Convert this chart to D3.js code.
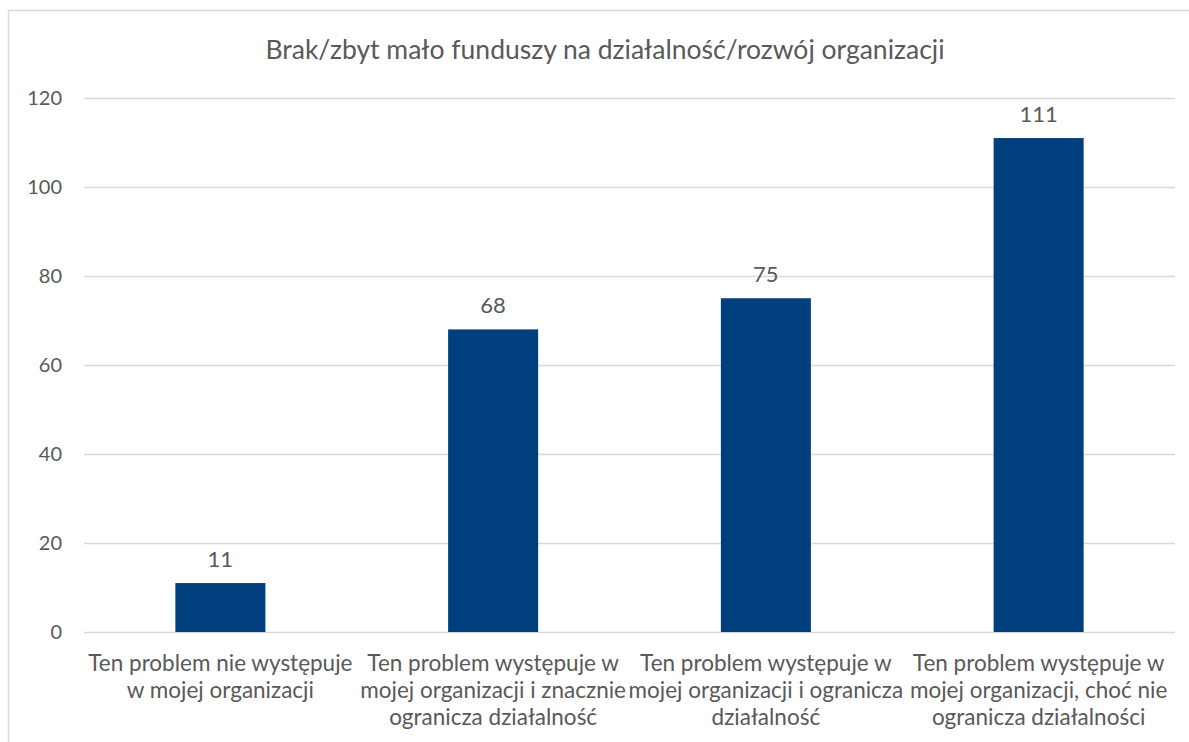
<!DOCTYPE html>
<html lang="pl">
<head>
<meta charset="UTF-8">
<title>Brak/zbyt mało funduszy</title>
<script src="https://d3js.org/d3.v7.min.js"></script>
<style>
  body { margin: 0; background: #fff; }
  text { font-family: Lato, "Open Sans", sans-serif; fill: #595959; }
</style>
</head>
<body>
<svg id="chart"></svg>
<script>
const title = "Brak/zbyt mało funduszy na działalność/rozwój organizacji";
const categories = [
  ["Ten problem nie występuje", "w mojej organizacji"],
  ["Ten problem występuje w", "mojej organizacji i znacznie", "ogranicza działalność"],
  ["Ten problem występuje w", "mojej organizacji i ogranicza", "działalność"],
  ["Ten problem występuje w", "mojej organizacji, choć nie", "ogranicza działalności"]
];
const values = [11, 68, 75, 111];
const yTicks = [0, 20, 40, 60, 80, 100, 120];

const width = 1189, height = 742;
const margin = { left: 84, right: 14, top: 98, bottom: 110 };

const svg = d3.select("#chart").attr("width", width).attr("height", height);

// chart frame
svg.append("rect")
  .attr("x", 8.5).attr("y", 10.5)
  .attr("width", 1300).attr("height", 900)
  .attr("fill", "none").attr("stroke", "#d9d9d9").attr("stroke-width", 1.5);

svg.append("text")
  .attr("x", 605).attr("y", 59)
  .attr("text-anchor", "middle")
  .attr("font-size", 26.5)
  .text(title);

const x = d3.scaleBand()
  .domain(d3.range(categories.length))
  .range([margin.left, width - margin.right])
  .paddingInner(0.67).paddingOuter(0.335);

const y = d3.scaleLinear().domain([0, 120]).range([height - margin.bottom, margin.top]);

// gridlines
svg.append("g").selectAll("line")
  .data(yTicks).enter().append("line")
  .attr("x1", margin.left).attr("x2", width - margin.right)
  .attr("y1", d => Math.round(y(d)) + 0.5).attr("y2", d => Math.round(y(d)) + 0.5)
  .attr("stroke", "#d9d9d9").attr("stroke-width", 1.5);

// y labels
svg.append("g").selectAll("text")
  .data(yTicks).enter().append("text")
  .attr("x", 62).attr("y", d => y(d))
  .attr("dy", "0.35em")
  .attr("text-anchor", "end")
  .attr("font-size", 20)
  .text(d => d);

// bars
svg.append("g").selectAll("rect")
  .data(values).enter().append("rect")
  .attr("x", (d, i) => x(i))
  .attr("width", x.bandwidth())
  .attr("y", d => y(d))
  .attr("height", d => y(0) - y(d))
  .attr("fill", "#003f7d");

// value labels
svg.append("g").selectAll("text")
  .data(values).enter().append("text")
  .attr("x", (d, i) => x(i) + x.bandwidth() / 2)
  .attr("y", d => y(d) - 16)
  .attr("text-anchor", "middle")
  .attr("font-size", 22)
  .attr("fill", "#404040")
  .text(d => d);

// category labels
const cat = svg.append("g").selectAll("text")
  .data(categories).enter().append("text")
  .attr("x", (d, i) => x(i) + x.bandwidth() / 2)
  .attr("y", y(0) + 39)
  .attr("text-anchor", "middle")
  .attr("font-size", 22.5);

cat.selectAll("tspan")
  .data(d => d).enter().append("tspan")
  .attr("x", function () { return d3.select(this.parentNode).attr("x"); })
  .attr("dy", (d, i) => i === 0 ? 0 : 27)
  .text(d => d);
</script>
</body>
</html>
